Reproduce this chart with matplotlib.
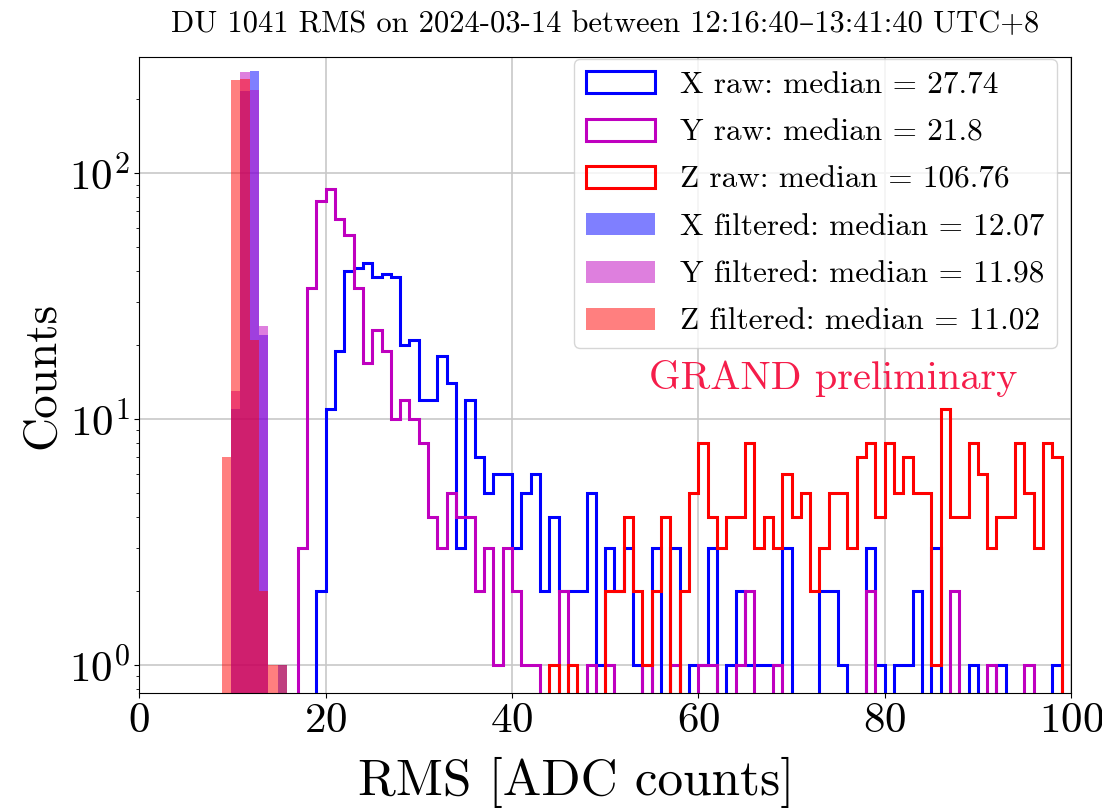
import numpy as np
import matplotlib
matplotlib.use("Agg")
import matplotlib.pyplot as plt

plt.rcParams['font.family'] = ['cmr10', 'DejaVu Serif']
plt.rcParams['mathtext.fontset'] = 'cm'
plt.rcParams['axes.formatter.use_mathtext'] = True

# raw RMS histograms, unit-wide bins starting at 0
raw_edges = np.arange(0, 100)
x_raw = [0]*19 + [2, 11, 19, 40, 41, 43, 38, 39, 38, 20, 21, 12, 12, 18, 14, 3, 12, 7, 5, 6,
                  6, 3, 5, 6, 2, 4, 2, 2, 2, 5, 1, 3, 2, 3, 1, 0, 3, 0, 3, 0,
                  1, 1, 3, 0, 1, 2, 1, 1, 1, 1, 3, 0, 0, 0, 2, 2, 1, 0, 0, 3,
                  1, 0, 1, 1, 2, 0, 3, 0, 0, 0, 1, 0, 0, 1, 0, 0, 0, 0, 0, 1]
y_raw = [0]*17 + [3, 34, 77, 86, 65, 56, 34, 17, 23, 19, 10, 12, 10, 8, 4, 3, 5, 4, 4, 2,
                  3, 1, 3, 2, 1, 1, 0, 0, 2, 0, 0, 1, 0, 1, 0, 0, 0, 1, 0, 0,
                  1, 0, 0, 1, 1, 0, 0, 1, 2, 0, 0, 1, 0, 0, 0, 0, 0, 0, 0, 0,
                  0, 2, 0, 0, 0, 0, 0, 0, 0, 0, 2, 0, 0, 0, 1, 0, 0, 0, 1, 0,
                  0, 0]
z_raw = [0]*44 + [1, 0, 1, 0, 0, 0, 2, 2, 4, 2, 1, 2, 4, 0, 2, 5, 8, 4, 3, 4,
                  4, 8, 3, 4, 3, 6, 4, 5, 2, 3, 5, 5, 3, 7, 8, 4, 8, 5, 7, 5,
                  5, 1, 11, 4, 4, 8, 6, 3, 4, 4, 8, 5, 3, 8, 7]

# filtered RMS histograms
filt_edges = np.arange(8.85, 16.0, 1.0)
x_filt = [0, 11, 217, 261, 22, 0, 1]
y_filt = [0, 13, 258, 219, 24, 0, 0]
z_filt = [7, 239, 242, 21, 2, 1, 1]

medians_raw = [27.74, 21.8, 106.76]
medians_filt = [12.07, 11.98, 11.02]
axes_names = ['X', 'Y', 'Z']
colors = ['b', 'm', 'r']

fig = plt.figure(figsize=(11.02, 8.11), dpi=100)
ax = fig.add_axes([0.1264, 0.1455, 0.8455, 0.7842])

raw_centers = raw_edges[:-1] + 0.5
for name, counts, c, med in zip(axes_names, [x_raw, y_raw, z_raw], colors, medians_raw):
    ax.hist(raw_centers, bins=raw_edges, weights=counts, histtype='step', color=c, lw=2.2,
            log=True, label=f'{name} raw: median = {med}')

filt_centers = filt_edges[:-1] + 0.5
for name, counts, c, med in zip(axes_names, [x_filt, y_filt, z_filt], colors, medians_filt):
    ax.hist(filt_centers, bins=filt_edges, weights=counts, color=c, alpha=0.5,
            log=True, label=f'{name} filtered: median = {med}')

ax.set_xlim(0, 100)
ax.set_ylim(0.77, 297)
ax.grid(True, color='#c8c8c8', lw=1.2)
ax.set_axisbelow(True)
ax.tick_params(labelsize=31)
ax.set_xlabel('RMS [ADC counts]', fontsize=37, x=0.469, labelpad=12)
ax.set_ylabel('Counts', fontsize=34)
ax.set_title('DU 1041 RMS on 2024-03-14 between 12:16:40\u201313:41:40 UTC+8', fontsize=22, pad=18)
ax.legend(loc='upper right', bbox_to_anchor=(0.985, 0.997), borderaxespad=0,
          fontsize=22.5, labelspacing=0.62, handlelength=2.2)
ax.text(0.745, 0.495, 'GRAND preliminary', transform=ax.transAxes, color='#f51d4a',
        fontsize=29, ha='center', va='center')

fig.savefig('out.png', dpi=100)
